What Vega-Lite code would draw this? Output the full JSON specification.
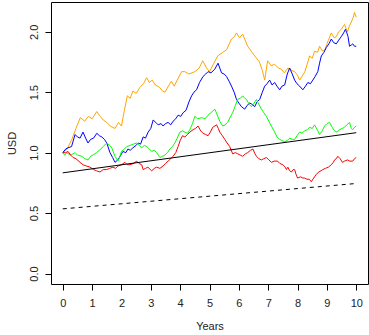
{
  "$schema": "https://vega.github.io/schema/vega-lite/v6.json",
  "width": 317,
  "height": 282,
  "autosize": {"type": "none"},
  "padding": {"left": 51, "top": 2, "right": 1, "bottom": 51},
  "background": "white",
  "config": {
    "view": {"stroke": "#000", "strokeWidth": 1},
    "font": "Liberation Sans",
    "axis": {"grid": false, "domain": false, "tickColor": "#000", "tickSize": 6, "labelFontSize": 11, "labelColor": "#222", "titleFontSize": 11, "titleFontWeight": "normal", "titleColor": "#222", "labelFont": "Liberation Sans", "titleFont": "Liberation Sans"}
  },
  "datasets": {
    "orange": [{"t":0,"v":1.0},{"t":0.15,"v":1.03},{"t":0.31,"v":1.11},{"t":0.45,"v":1.2},{"t":0.6,"v":1.29},{"t":0.75,"v":1.26},{"t":0.87,"v":1.3},{"t":1.0,"v":1.28},{"t":1.16,"v":1.34},{"t":1.28,"v":1.3},{"t":1.38,"v":1.27},{"t":1.5,"v":1.25},{"t":1.62,"v":1.22},{"t":1.78,"v":1.2},{"t":1.9,"v":1.25},{"t":2.0,"v":1.22},{"t":2.1,"v":1.35},{"t":2.2,"v":1.47},{"t":2.3,"v":1.45},{"t":2.39,"v":1.51},{"t":2.5,"v":1.49},{"t":2.63,"v":1.54},{"t":2.75,"v":1.57},{"t":2.86,"v":1.62},{"t":2.95,"v":1.58},{"t":3.05,"v":1.6},{"t":3.15,"v":1.56},{"t":3.3,"v":1.54},{"t":3.4,"v":1.51},{"t":3.48,"v":1.5},{"t":3.6,"v":1.55},{"t":3.7,"v":1.59},{"t":3.8,"v":1.55},{"t":3.9,"v":1.6},{"t":4.05,"v":1.67},{"t":4.16,"v":1.67},{"t":4.3,"v":1.65},{"t":4.5,"v":1.67},{"t":4.65,"v":1.7},{"t":4.77,"v":1.76},{"t":4.9,"v":1.7},{"t":5.0,"v":1.67},{"t":5.15,"v":1.74},{"t":5.28,"v":1.8},{"t":5.45,"v":1.83},{"t":5.58,"v":1.85},{"t":5.75,"v":1.94},{"t":5.85,"v":1.96},{"t":5.92,"v":1.99},{"t":6.02,"v":1.95},{"t":6.13,"v":1.98},{"t":6.3,"v":1.88},{"t":6.45,"v":1.83},{"t":6.54,"v":1.8},{"t":6.7,"v":1.75},{"t":6.8,"v":1.68},{"t":6.88,"v":1.6},{"t":6.98,"v":1.76},{"t":7.1,"v":1.72},{"t":7.22,"v":1.73},{"t":7.35,"v":1.7},{"t":7.45,"v":1.69},{"t":7.55,"v":1.66},{"t":7.67,"v":1.7},{"t":7.8,"v":1.68},{"t":7.9,"v":1.67},{"t":8.0,"v":1.64},{"t":8.07,"v":1.6},{"t":8.15,"v":1.63},{"t":8.25,"v":1.67},{"t":8.35,"v":1.75},{"t":8.41,"v":1.8},{"t":8.5,"v":1.78},{"t":8.58,"v":1.84},{"t":8.68,"v":1.83},{"t":8.75,"v":1.88},{"t":8.85,"v":1.84},{"t":8.93,"v":1.85},{"t":9.05,"v":1.93},{"t":9.15,"v":1.99},{"t":9.25,"v":1.95},{"t":9.32,"v":1.96},{"t":9.4,"v":2.0},{"t":9.49,"v":2.02},{"t":9.6,"v":2.06},{"t":9.7,"v":2.0},{"t":9.77,"v":2.05},{"t":9.83,"v":2.08},{"t":9.9,"v":2.12},{"t":9.94,"v":2.16},{"t":10,"v":2.12}],
    "blue": [{"t":0,"v":1.0},{"t":0.1,"v":1.03},{"t":0.18,"v":1.04},{"t":0.3,"v":1.05},{"t":0.42,"v":1.15},{"t":0.5,"v":1.13},{"t":0.59,"v":1.12},{"t":0.69,"v":1.17},{"t":0.78,"v":1.12},{"t":0.86,"v":1.08},{"t":0.95,"v":1.11},{"t":1.05,"v":1.12},{"t":1.16,"v":1.16},{"t":1.25,"v":1.14},{"t":1.33,"v":1.13},{"t":1.42,"v":1.11},{"t":1.5,"v":1.08},{"t":1.61,"v":1.0},{"t":1.7,"v":0.96},{"t":1.78,"v":0.92},{"t":1.88,"v":0.94},{"t":2.05,"v":1.01},{"t":2.15,"v":1.0},{"t":2.22,"v":1.03},{"t":2.3,"v":1.02},{"t":2.39,"v":1.04},{"t":2.5,"v":1.06},{"t":2.57,"v":1.08},{"t":2.65,"v":1.07},{"t":2.74,"v":1.13},{"t":2.82,"v":1.12},{"t":2.91,"v":1.17},{"t":3.0,"v":1.2},{"t":3.08,"v":1.27},{"t":3.17,"v":1.25},{"t":3.25,"v":1.23},{"t":3.35,"v":1.24},{"t":3.42,"v":1.22},{"t":3.5,"v":1.24},{"t":3.59,"v":1.25},{"t":3.68,"v":1.23},{"t":3.76,"v":1.26},{"t":3.85,"v":1.28},{"t":3.93,"v":1.31},{"t":4.02,"v":1.3},{"t":4.1,"v":1.33},{"t":4.2,"v":1.35},{"t":4.3,"v":1.42},{"t":4.39,"v":1.47},{"t":4.47,"v":1.5},{"t":4.56,"v":1.52},{"t":4.66,"v":1.58},{"t":4.78,"v":1.63},{"t":4.87,"v":1.65},{"t":4.95,"v":1.67},{"t":5.05,"v":1.66},{"t":5.18,"v":1.69},{"t":5.29,"v":1.74},{"t":5.35,"v":1.7},{"t":5.41,"v":1.66},{"t":5.5,"v":1.65},{"t":5.58,"v":1.63},{"t":5.67,"v":1.59},{"t":5.75,"v":1.55},{"t":5.84,"v":1.5},{"t":5.92,"v":1.44},{"t":6.0,"v":1.41},{"t":6.09,"v":1.38},{"t":6.2,"v":1.36},{"t":6.28,"v":1.39},{"t":6.37,"v":1.41},{"t":6.45,"v":1.4},{"t":6.54,"v":1.38},{"t":6.62,"v":1.42},{"t":6.71,"v":1.44},{"t":6.8,"v":1.5},{"t":6.88,"v":1.55},{"t":6.96,"v":1.57},{"t":7.05,"v":1.6},{"t":7.13,"v":1.56},{"t":7.22,"v":1.58},{"t":7.3,"v":1.55},{"t":7.39,"v":1.52},{"t":7.47,"v":1.55},{"t":7.56,"v":1.56},{"t":7.65,"v":1.65},{"t":7.73,"v":1.7},{"t":7.82,"v":1.65},{"t":7.9,"v":1.6},{"t":7.98,"v":1.57},{"t":8.07,"v":1.55},{"t":8.18,"v":1.52},{"t":8.27,"v":1.55},{"t":8.35,"v":1.58},{"t":8.44,"v":1.57},{"t":8.52,"v":1.6},{"t":8.6,"v":1.63},{"t":8.69,"v":1.67},{"t":8.75,"v":1.74},{"t":8.81,"v":1.8},{"t":8.9,"v":1.83},{"t":8.98,"v":1.87},{"t":9.07,"v":1.9},{"t":9.15,"v":1.94},{"t":9.23,"v":1.91},{"t":9.32,"v":1.9},{"t":9.4,"v":1.93},{"t":9.49,"v":1.96},{"t":9.57,"v":1.99},{"t":9.63,"v":2.02},{"t":9.68,"v":1.99},{"t":9.72,"v":1.96},{"t":9.77,"v":1.88},{"t":9.83,"v":1.89},{"t":9.88,"v":1.9},{"t":9.94,"v":1.88},{"t":10,"v":1.88}],
    "green": [{"t":0,"v":1.0},{"t":0.07,"v":0.98},{"t":0.14,"v":1.0},{"t":0.25,"v":0.98},{"t":0.31,"v":0.985},{"t":0.42,"v":1.0},{"t":0.5,"v":0.98},{"t":0.65,"v":0.97},{"t":0.75,"v":0.95},{"t":0.86,"v":0.94},{"t":0.95,"v":0.97},{"t":1.03,"v":0.98},{"t":1.15,"v":1.0},{"t":1.25,"v":1.02},{"t":1.38,"v":1.05},{"t":1.5,"v":1.08},{"t":1.6,"v":1.06},{"t":1.67,"v":1.04},{"t":1.78,"v":0.97},{"t":1.88,"v":0.93},{"t":1.95,"v":0.97},{"t":2.0,"v":1.01},{"t":2.1,"v":1.03},{"t":2.18,"v":1.05},{"t":2.3,"v":1.06},{"t":2.4,"v":1.07},{"t":2.52,"v":1.08},{"t":2.6,"v":1.06},{"t":2.69,"v":1.04},{"t":2.78,"v":1.06},{"t":2.86,"v":1.05},{"t":2.95,"v":1.03},{"t":3.03,"v":1.01},{"t":3.12,"v":1.02},{"t":3.2,"v":1.0},{"t":3.31,"v":0.96},{"t":3.4,"v":0.97},{"t":3.48,"v":0.98},{"t":3.57,"v":1.0},{"t":3.65,"v":1.03},{"t":3.73,"v":1.05},{"t":3.82,"v":1.08},{"t":3.9,"v":1.12},{"t":3.99,"v":1.17},{"t":4.08,"v":1.18},{"t":4.16,"v":1.17},{"t":4.25,"v":1.16},{"t":4.33,"v":1.19},{"t":4.42,"v":1.24},{"t":4.5,"v":1.3},{"t":4.6,"v":1.28},{"t":4.73,"v":1.29},{"t":4.85,"v":1.28},{"t":4.95,"v":1.31},{"t":5.05,"v":1.33},{"t":5.18,"v":1.36},{"t":5.25,"v":1.32},{"t":5.35,"v":1.26},{"t":5.45,"v":1.22},{"t":5.53,"v":1.23},{"t":5.62,"v":1.25},{"t":5.7,"v":1.29},{"t":5.79,"v":1.33},{"t":5.88,"v":1.39},{"t":5.96,"v":1.44},{"t":6.05,"v":1.45},{"t":6.13,"v":1.47},{"t":6.2,"v":1.45},{"t":6.26,"v":1.44},{"t":6.35,"v":1.4},{"t":6.43,"v":1.38},{"t":6.52,"v":1.41},{"t":6.6,"v":1.44},{"t":6.68,"v":1.4},{"t":6.77,"v":1.36},{"t":6.85,"v":1.33},{"t":6.94,"v":1.3},{"t":7.02,"v":1.26},{"t":7.11,"v":1.22},{"t":7.22,"v":1.17},{"t":7.3,"v":1.13},{"t":7.39,"v":1.11},{"t":7.47,"v":1.1},{"t":7.56,"v":1.09},{"t":7.65,"v":1.1},{"t":7.73,"v":1.12},{"t":7.82,"v":1.11},{"t":7.9,"v":1.11},{"t":7.98,"v":1.14},{"t":8.07,"v":1.17},{"t":8.15,"v":1.16},{"t":8.24,"v":1.18},{"t":8.33,"v":1.19},{"t":8.41,"v":1.21},{"t":8.5,"v":1.2},{"t":8.58,"v":1.23},{"t":8.67,"v":1.19},{"t":8.75,"v":1.15},{"t":8.84,"v":1.18},{"t":8.92,"v":1.22},{"t":9.0,"v":1.24},{"t":9.09,"v":1.25},{"t":9.18,"v":1.21},{"t":9.26,"v":1.18},{"t":9.35,"v":1.17},{"t":9.43,"v":1.19},{"t":9.52,"v":1.2},{"t":9.6,"v":1.21},{"t":9.68,"v":1.23},{"t":9.77,"v":1.25},{"t":9.83,"v":1.2},{"t":9.88,"v":1.19},{"t":9.94,"v":1.21},{"t":10,"v":1.22}],
    "red": [{"t":0,"v":1.0},{"t":0.1,"v":1.0},{"t":0.18,"v":1.01},{"t":0.27,"v":0.98},{"t":0.35,"v":0.96},{"t":0.45,"v":0.95},{"t":0.59,"v":0.92},{"t":0.69,"v":0.9},{"t":0.8,"v":0.89},{"t":0.93,"v":0.88},{"t":1.05,"v":0.86},{"t":1.15,"v":0.85},{"t":1.27,"v":0.84},{"t":1.38,"v":0.86},{"t":1.5,"v":0.86},{"t":1.6,"v":0.87},{"t":1.71,"v":0.88},{"t":1.8,"v":0.87},{"t":1.88,"v":0.89},{"t":2.0,"v":0.9},{"t":2.12,"v":0.92},{"t":2.2,"v":0.9},{"t":2.29,"v":0.9},{"t":2.4,"v":0.91},{"t":2.52,"v":0.93},{"t":2.6,"v":0.91},{"t":2.69,"v":0.9},{"t":2.74,"v":0.86},{"t":2.82,"v":0.87},{"t":2.9,"v":0.88},{"t":3.03,"v":0.85},{"t":3.12,"v":0.87},{"t":3.2,"v":0.88},{"t":3.31,"v":0.87},{"t":3.42,"v":0.89},{"t":3.5,"v":0.91},{"t":3.59,"v":0.93},{"t":3.68,"v":0.95},{"t":3.76,"v":0.97},{"t":3.85,"v":1.0},{"t":3.93,"v":1.05},{"t":4.0,"v":1.1},{"t":4.08,"v":1.14},{"t":4.16,"v":1.13},{"t":4.25,"v":1.15},{"t":4.33,"v":1.17},{"t":4.44,"v":1.19},{"t":4.52,"v":1.2},{"t":4.61,"v":1.22},{"t":4.7,"v":1.18},{"t":4.78,"v":1.16},{"t":4.87,"v":1.15},{"t":4.95,"v":1.14},{"t":5.03,"v":1.17},{"t":5.11,"v":1.21},{"t":5.18,"v":1.22},{"t":5.24,"v":1.23},{"t":5.3,"v":1.2},{"t":5.35,"v":1.17},{"t":5.44,"v":1.14},{"t":5.52,"v":1.11},{"t":5.6,"v":1.08},{"t":5.69,"v":1.05},{"t":5.79,"v":0.99},{"t":5.88,"v":1.0},{"t":5.96,"v":0.99},{"t":6.05,"v":0.98},{"t":6.13,"v":0.97},{"t":6.22,"v":0.99},{"t":6.3,"v":1.0},{"t":6.4,"v":1.02},{"t":6.48,"v":1.03},{"t":6.55,"v":0.99},{"t":6.6,"v":0.97},{"t":6.68,"v":0.95},{"t":6.77,"v":0.94},{"t":6.85,"v":0.95},{"t":6.94,"v":0.96},{"t":7.02,"v":0.94},{"t":7.11,"v":0.92},{"t":7.2,"v":0.93},{"t":7.32,"v":0.93},{"t":7.4,"v":0.91},{"t":7.5,"v":0.9},{"t":7.58,"v":0.88},{"t":7.62,"v":0.86},{"t":7.67,"v":0.88},{"t":7.73,"v":0.85},{"t":7.79,"v":0.84},{"t":7.85,"v":0.86},{"t":7.9,"v":0.86},{"t":7.95,"v":0.82},{"t":8.0,"v":0.79},{"t":8.1,"v":0.8},{"t":8.18,"v":0.79},{"t":8.24,"v":0.79},{"t":8.32,"v":0.78},{"t":8.4,"v":0.78},{"t":8.47,"v":0.76},{"t":8.55,"v":0.79},{"t":8.64,"v":0.82},{"t":8.72,"v":0.84},{"t":8.8,"v":0.85},{"t":8.86,"v":0.86},{"t":8.95,"v":0.87},{"t":9.05,"v":0.88},{"t":9.15,"v":0.9},{"t":9.22,"v":0.92},{"t":9.26,"v":0.94},{"t":9.32,"v":0.95},{"t":9.37,"v":0.97},{"t":9.45,"v":0.95},{"t":9.53,"v":0.92},{"t":9.6,"v":0.93},{"t":9.7,"v":0.94},{"t":9.78,"v":0.93},{"t":9.88,"v":0.93},{"t":9.94,"v":0.95},{"t":10,"v":0.96}],
    "solid": [{"t":0,"v":0.833},{"t":10,"v":1.165}],
    "dashed": [{"t":0,"v":0.535},{"t":10,"v":0.745}]
  },
  "encoding": {
    "x": {"field": "t", "type": "quantitative", "scale": {"domain": [-0.4, 10.4], "nice": false, "zero": false},
          "axis": {"values": [0,1,2,3,4,5,6,7,8,9,10], "title": "Years", "labelPadding": 7, "titlePadding": 12}},
    "y": {"field": "v", "type": "quantitative", "scale": {"domain": [-0.0864, 2.246], "nice": false, "zero": false},
          "axis": {"values": [0,0.5,1,1.5,2], "format": ".1f", "labelAngle": -90, "labelAlign": "center", "labelBaseline": "bottom", "title": "USD", "labelPadding": 6, "titlePadding": 11}}
  },
  "layer": [
    {"data": {"name": "orange"}, "mark": {"type": "line", "color": "#FFA500", "strokeWidth": 1}},
    {"data": {"name": "blue"}, "mark": {"type": "line", "color": "#0000FF", "strokeWidth": 1}},
    {"data": {"name": "green"}, "mark": {"type": "line", "color": "#00FF00", "strokeWidth": 1}},
    {"data": {"name": "red"}, "mark": {"type": "line", "color": "#FF0000", "strokeWidth": 1}},
    {"data": {"name": "solid"}, "mark": {"type": "line", "color": "#000", "strokeWidth": 1}},
    {"data": {"name": "dashed"}, "mark": {"type": "line", "color": "#000", "strokeWidth": 1, "strokeDash": [4, 4]}}
  ]
}
